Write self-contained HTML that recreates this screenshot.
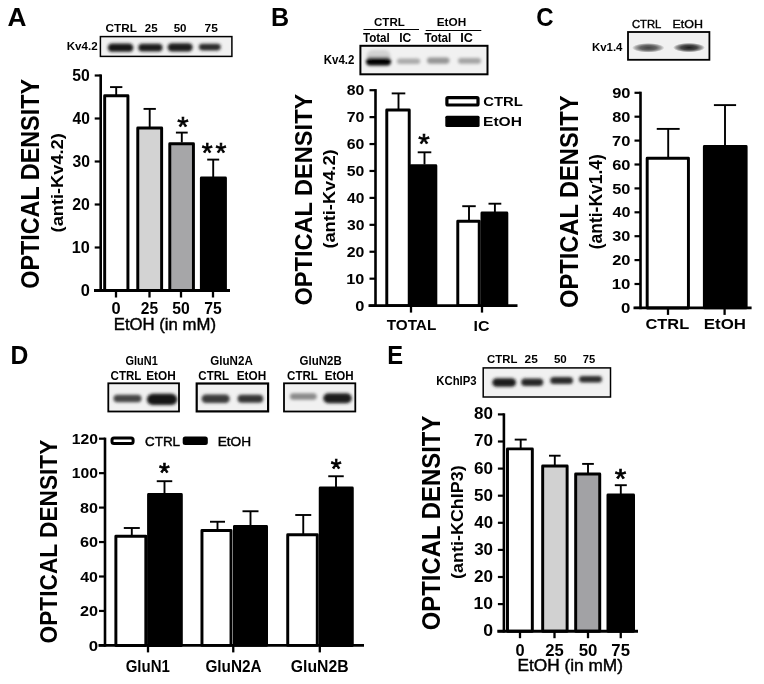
<!DOCTYPE html>
<html><head><meta charset="utf-8"><title>Figure</title>
<style>
html,body{margin:0;padding:0;background:#fff;width:764px;height:684px;overflow:hidden;}
svg{display:block;}
text{font-family:"Liberation Sans", Arial, sans-serif;}
</style></head><body>
<svg width="764" height="684" viewBox="0 0 764 684">
<defs><radialGradient id="lens"><stop offset="0" stop-color="#000" stop-opacity="1"/><stop offset="0.5" stop-color="#000" stop-opacity="0.8"/><stop offset="0.8" stop-color="#000" stop-opacity="0.4"/><stop offset="1" stop-color="#000" stop-opacity="0"/></radialGradient><filter id="bl" x="-20%" y="-50%" width="140%" height="200%"><feGaussianBlur stdDeviation="1.6"/></filter></defs>
<rect width="764" height="684" fill="#fff"/>
<text transform="translate(8.10,25.80) scale(1.0126,1)" x="-0.65" y="0" font-size="25.94" font-weight="bold" fill="#000">A</text>
<text transform="translate(106.00,32.00) scale(1.0137,1)" x="-0.46" y="0" font-size="11.59" font-weight="bold" fill="#000">CTRL</text>
<text transform="translate(145.20,31.80) scale(1.0194,1)" x="-0.40" y="0" font-size="11.30" font-weight="bold" fill="#000">25</text>
<text transform="translate(174.00,32.00) scale(0.9952,1)" x="-0.35" y="0" font-size="11.59" font-weight="bold" fill="#000">50</text>
<text transform="translate(205.00,32.00) scale(1.0317,1)" x="-0.46" y="0" font-size="11.59" font-weight="bold" fill="#000">75</text>
<clipPath id="c1"><rect x="100.4" y="36.6" width="131.5" height="19.799999999999997"/></clipPath>
<rect x="100.40" y="36.60" width="131.50" height="19.80" fill="#f1f1f1" stroke="none" stroke-width="0" />
<g clip-path="url(#c1)" filter="url(#bl)">
<rect x="107.80" y="43.55" width="25.50" height="8.30" rx="4.15" fill="#151515"/>
<rect x="138.30" y="43.70" width="24.20" height="7.80" rx="3.90" fill="#1e1e1e"/>
<rect x="167.70" y="43.15" width="24.90" height="8.30" rx="4.15" fill="#1a1a1a"/>
<rect x="198.90" y="43.80" width="21.80" height="6.60" rx="3.30" fill="#2a2a2a"/>
</g>
<rect x="100.40" y="36.60" width="131.50" height="19.80" fill="none" stroke="#000" stroke-width="1.5" />
<text transform="translate(67.50,50.30) scale(1.0006,1)" x="-0.75" y="0" font-size="11.59" font-weight="bold" fill="#000">Kv4.2</text>
<line x1="100.70" y1="74.40" x2="100.70" y2="291.80" stroke="#000" stroke-width="2.6"/>
<line x1="94.70" y1="75.50" x2="100.70" y2="75.50" stroke="#000" stroke-width="2.2"/>
<line x1="94.70" y1="118.50" x2="100.70" y2="118.50" stroke="#000" stroke-width="2.2"/>
<line x1="94.70" y1="161.50" x2="100.70" y2="161.50" stroke="#000" stroke-width="2.2"/>
<line x1="94.70" y1="204.50" x2="100.70" y2="204.50" stroke="#000" stroke-width="2.2"/>
<line x1="94.70" y1="247.50" x2="100.70" y2="247.50" stroke="#000" stroke-width="2.2"/>
<line x1="94.70" y1="290.50" x2="100.70" y2="290.50" stroke="#000" stroke-width="2.2"/>
<text transform="translate(72.80,80.90) scale(1.0075,1)" x="-0.47" y="0" font-size="15.65" font-weight="bold" fill="#000">50</text>
<text transform="translate(72.80,123.90) scale(0.9932,1)" x="-0.23" y="0" font-size="15.65" font-weight="bold" fill="#000">40</text>
<text transform="translate(72.80,166.90) scale(1.0027,1)" x="-0.39" y="0" font-size="15.65" font-weight="bold" fill="#000">30</text>
<text transform="translate(72.80,209.90) scale(1.0123,1)" x="-0.55" y="0" font-size="15.65" font-weight="bold" fill="#000">20</text>
<text transform="translate(72.80,252.90) scale(1.0374,1)" x="-0.94" y="0" font-size="15.65" font-weight="bold" fill="#000">10</text>
<text transform="translate(81.40,295.90) scale(1.0491,1)" x="-0.63" y="0" font-size="15.65" font-weight="bold" fill="#000">0</text>
<line x1="116.20" y1="95.50" x2="116.20" y2="87.10" stroke="#000" stroke-width="1.9"/>
<line x1="110.05" y1="87.10" x2="122.35" y2="87.10" stroke="#000" stroke-width="1.9"/>
<rect x="104.67" y="95.77" width="23.25" height="194.72" fill="#fff" stroke="#000" stroke-width="2.95" stroke-linejoin="round"/>
<line x1="149.70" y1="127.00" x2="149.70" y2="108.90" stroke="#000" stroke-width="1.9"/>
<line x1="143.55" y1="108.90" x2="155.85" y2="108.90" stroke="#000" stroke-width="1.9"/>
<rect x="137.78" y="128.07" width="23.85" height="162.43" fill="#d3d3d3" stroke="#000" stroke-width="2.95" stroke-linejoin="round"/>
<line x1="181.80" y1="142.50" x2="181.80" y2="132.60" stroke="#000" stroke-width="1.9"/>
<line x1="175.90" y1="132.60" x2="187.70" y2="132.60" stroke="#000" stroke-width="1.9"/>
<rect x="169.78" y="143.67" width="23.65" height="146.83" fill="#a6a6a8" stroke="#000" stroke-width="2.95" stroke-linejoin="round"/>
<line x1="213.20" y1="177.00" x2="213.20" y2="159.60" stroke="#000" stroke-width="1.9"/>
<line x1="207.20" y1="159.60" x2="219.20" y2="159.60" stroke="#000" stroke-width="1.9"/>
<rect x="201.38" y="178.07" width="24.05" height="112.43" fill="#000" stroke="#000" stroke-width="2.95" stroke-linejoin="round"/>
<text transform="translate(177.80,135.63) scale(1.0634,1)" x="-0.41" y="0" font-size="27.43" font-weight="normal" stroke="#000" stroke-width="0.66">*</text>
<text transform="translate(202.20,162.03) scale(1.0229,1)" x="-0.41" y="0" font-size="27.43" font-weight="normal" stroke="#000" stroke-width="0.68">*</text>
<text transform="translate(215.80,162.03) scale(1.0229,1)" x="-0.41" y="0" font-size="27.43" font-weight="normal" stroke="#000" stroke-width="0.68">*</text>
<line x1="94.00" y1="290.50" x2="230.00" y2="290.50" stroke="#000" stroke-width="2.9"/>
<line x1="116.00" y1="290.50" x2="116.00" y2="297.50" stroke="#000" stroke-width="2.3"/>
<line x1="149.50" y1="290.50" x2="149.50" y2="297.50" stroke="#000" stroke-width="2.3"/>
<line x1="181.00" y1="290.50" x2="181.00" y2="297.50" stroke="#000" stroke-width="2.3"/>
<line x1="213.00" y1="290.50" x2="213.00" y2="297.50" stroke="#000" stroke-width="2.3"/>
<text transform="translate(112.10,314.00) scale(0.9853,1)" x="-0.67" y="0" font-size="16.67" font-weight="bold" fill="#000">0</text>
<text transform="translate(141.30,314.00) scale(0.9371,1)" x="-0.58" y="0" font-size="16.67" font-weight="bold" fill="#000">25</text>
<text transform="translate(172.80,314.00) scale(0.9462,1)" x="-0.50" y="0" font-size="16.67" font-weight="bold" fill="#000">50</text>
<text transform="translate(204.80,314.00) scale(0.9416,1)" x="-0.67" y="0" font-size="16.67" font-weight="bold" fill="#000">75</text>
<text transform="translate(115.10,329.80) scale(1.0691,1)" x="-1.25" y="0" font-size="15.65" font-weight="normal" fill="#000" stroke="#000" stroke-width="0.42">EtOH (in mM)</text>
<text transform="translate(38.50,287.80) rotate(-90) scale(0.9372,1)" x="-1.00" y="0" font-size="24.93" font-weight="bold">OPTICAL DENSITY</text>
<text transform="translate(62.50,231.50) rotate(-90) scale(1.0567,1)" x="-0.86" y="0" font-size="17.25" font-weight="bold">(anti-Kv4.2)</text>
<text transform="translate(272.70,25.80) scale(0.9723,1)" x="-1.68" y="0" font-size="25.80" font-weight="bold" fill="#000">B</text>
<text transform="translate(374.50,26.00) scale(1.1396,1)" x="-0.41" y="0" font-size="10.14" font-weight="bold" fill="#000">CTRL</text>
<line x1="363.50" y1="29.50" x2="419.00" y2="29.50" stroke="#000" stroke-width="1.1"/>
<text transform="translate(437.50,26.00) scale(1.1646,1)" x="-0.66" y="0" font-size="10.14" font-weight="bold" fill="#000">EtOH</text>
<line x1="425.70" y1="30.50" x2="481.30" y2="30.50" stroke="#000" stroke-width="1.1"/>
<text transform="translate(363.00,42.00) scale(0.8919,1)" x="-0.13" y="0" font-size="13.04" font-weight="bold" fill="#000">Total</text>
<text transform="translate(400.00,42.00) scale(0.9267,1)" x="-0.85" y="0" font-size="13.04" font-weight="bold" fill="#000">IC</text>
<text transform="translate(424.50,42.00) scale(0.8919,1)" x="-0.13" y="0" font-size="13.04" font-weight="bold" fill="#000">Total</text>
<text transform="translate(461.00,42.00) scale(0.9689,1)" x="-0.85" y="0" font-size="13.04" font-weight="bold" fill="#000">IC</text>
<clipPath id="c2"><rect x="360.4" y="45.8" width="127.10000000000002" height="28.5"/></clipPath>
<rect x="360.40" y="45.80" width="127.10" height="28.50" fill="#f1f1f1" stroke="none" stroke-width="0" />
<g clip-path="url(#c2)" filter="url(#bl)">
<rect x="366.50" y="50.00" width="24.00" height="12.00" rx="6.00" fill="#d2d2d2"/>
<rect x="366.00" y="57.40" width="25.00" height="8.00" rx="4.00" fill="#050505"/>
<rect x="397.00" y="58.55" width="23.20" height="5.50" rx="2.75" fill="#aaaaaa"/>
<rect x="427.00" y="57.50" width="22.50" height="6.20" rx="3.10" fill="#959595"/>
<rect x="458.00" y="57.90" width="23.00" height="5.80" rx="2.90" fill="#a4a4a4"/>
</g>
<rect x="360.40" y="45.80" width="127.10" height="28.50" fill="none" stroke="#000" stroke-width="2" />
<text transform="translate(324.50,64.00) scale(0.9354,1)" x="-0.80" y="0" font-size="12.32" font-weight="bold" fill="#000">Kv4.2</text>
<line x1="375.50" y1="89.10" x2="375.50" y2="306.90" stroke="#000" stroke-width="2.6"/>
<line x1="369.50" y1="305.60" x2="375.50" y2="305.60" stroke="#000" stroke-width="2.2"/>
<line x1="369.50" y1="278.68" x2="375.50" y2="278.68" stroke="#000" stroke-width="2.2"/>
<line x1="369.50" y1="251.75" x2="375.50" y2="251.75" stroke="#000" stroke-width="2.2"/>
<line x1="369.50" y1="224.83" x2="375.50" y2="224.83" stroke="#000" stroke-width="2.2"/>
<line x1="369.50" y1="197.90" x2="375.50" y2="197.90" stroke="#000" stroke-width="2.2"/>
<line x1="369.50" y1="170.97" x2="375.50" y2="170.97" stroke="#000" stroke-width="2.2"/>
<line x1="369.50" y1="144.05" x2="375.50" y2="144.05" stroke="#000" stroke-width="2.2"/>
<line x1="369.50" y1="117.12" x2="375.50" y2="117.12" stroke="#000" stroke-width="2.2"/>
<line x1="369.50" y1="90.20" x2="375.50" y2="90.20" stroke="#000" stroke-width="2.2"/>
<text transform="translate(355.90,310.80) scale(1.0589,1)" x="-0.62" y="0" font-size="15.51" font-weight="bold" fill="#000">0</text>
<text transform="translate(347.30,283.88) scale(1.0471,1)" x="-0.93" y="0" font-size="15.51" font-weight="bold" fill="#000">10</text>
<text transform="translate(347.30,256.95) scale(1.0218,1)" x="-0.54" y="0" font-size="15.51" font-weight="bold" fill="#000">20</text>
<text transform="translate(347.30,230.03) scale(1.0120,1)" x="-0.39" y="0" font-size="15.51" font-weight="bold" fill="#000">30</text>
<text transform="translate(347.30,203.10) scale(1.0024,1)" x="-0.23" y="0" font-size="15.51" font-weight="bold" fill="#000">40</text>
<text transform="translate(347.30,176.17) scale(1.0169,1)" x="-0.47" y="0" font-size="15.51" font-weight="bold" fill="#000">50</text>
<text transform="translate(347.30,149.25) scale(1.0218,1)" x="-0.54" y="0" font-size="15.51" font-weight="bold" fill="#000">60</text>
<text transform="translate(347.30,122.33) scale(1.0268,1)" x="-0.62" y="0" font-size="15.51" font-weight="bold" fill="#000">70</text>
<text transform="translate(347.30,95.40) scale(1.0169,1)" x="-0.47" y="0" font-size="15.51" font-weight="bold" fill="#000">80</text>
<line x1="398.50" y1="109.50" x2="398.50" y2="93.40" stroke="#000" stroke-width="1.9"/>
<line x1="391.70" y1="93.40" x2="405.30" y2="93.40" stroke="#000" stroke-width="1.9"/>
<rect x="386.78" y="110.07" width="22.45" height="195.53" fill="#fff" stroke="#000" stroke-width="2.95" stroke-linejoin="round"/>
<line x1="424.50" y1="164.50" x2="424.50" y2="152.30" stroke="#000" stroke-width="1.9"/>
<line x1="417.70" y1="152.30" x2="431.30" y2="152.30" stroke="#000" stroke-width="1.9"/>
<rect x="411.18" y="165.78" width="24.65" height="139.83" fill="#000" stroke="#000" stroke-width="2.95" stroke-linejoin="round"/>
<line x1="469.00" y1="221.00" x2="469.00" y2="206.20" stroke="#000" stroke-width="1.9"/>
<line x1="462.25" y1="206.20" x2="475.75" y2="206.20" stroke="#000" stroke-width="1.9"/>
<rect x="457.78" y="221.17" width="21.45" height="84.43" fill="#fff" stroke="#000" stroke-width="2.95" stroke-linejoin="round"/>
<line x1="494.90" y1="212.00" x2="494.90" y2="203.70" stroke="#000" stroke-width="1.9"/>
<line x1="488.50" y1="203.70" x2="501.30" y2="203.70" stroke="#000" stroke-width="1.9"/>
<rect x="481.98" y="213.07" width="24.85" height="92.53" fill="#000" stroke="#000" stroke-width="2.95" stroke-linejoin="round"/>
<text transform="translate(418.80,153.02) scale(1.0410,1)" x="-0.42" y="0" font-size="28.29" font-weight="normal" stroke="#000" stroke-width="0.67">*</text>
<line x1="368.50" y1="305.60" x2="517.50" y2="305.60" stroke="#000" stroke-width="2.9"/>
<line x1="411.00" y1="305.60" x2="411.00" y2="312.60" stroke="#000" stroke-width="2.3"/>
<line x1="482.00" y1="305.60" x2="482.00" y2="312.60" stroke="#000" stroke-width="2.3"/>
<text transform="translate(386.80,330.40) scale(1.0159,1)" x="-0.15" y="0" font-size="15.07" font-weight="bold" fill="#000">TOTAL</text>
<text transform="translate(474.50,330.50) scale(1.0471,1)" x="-0.99" y="0" font-size="15.22" font-weight="bold" fill="#000">IC</text>
<rect x="446.90" y="97.60" width="31.10" height="7.40" fill="#fff" stroke="#000" stroke-width="3.2" rx="1"/>
<rect x="445.30" y="115.70" width="34.30" height="11.30" fill="#000" stroke="none" stroke-width="0" rx="1.5"/>
<text transform="translate(483.80,105.90) scale(1.1036,1)" x="-0.54" y="0" font-size="13.48" font-weight="bold" fill="#000">CTRL</text>
<text transform="translate(484.00,126.30) scale(1.1460,1)" x="-0.89" y="0" font-size="13.62" font-weight="bold" fill="#000">EtOH</text>
<text transform="translate(311.50,304.60) rotate(-90) scale(0.9577,1)" x="-0.99" y="0" font-size="24.64" font-weight="bold">OPTICAL DENSITY</text>
<text transform="translate(334.50,247.70) rotate(-90) scale(1.1432,1)" x="-0.80" y="0" font-size="15.94" font-weight="bold">(anti-Kv4.2)</text>
<text transform="translate(537.30,25.90) scale(0.9292,1)" x="-1.03" y="0" font-size="25.80" font-weight="bold" fill="#000">C</text>
<text transform="translate(632.50,27.50) scale(0.9716,1)" x="-0.58" y="0" font-size="11.59" font-weight="normal" fill="#000" stroke="#000" stroke-width="0.41">CTRL</text>
<text transform="translate(673.50,27.50) scale(1.0758,1)" x="-0.93" y="0" font-size="11.59" font-weight="normal" fill="#000" stroke="#000" stroke-width="0.37">EtOH</text>
<clipPath id="c3"><rect x="628" y="32" width="81.39999999999998" height="27.799999999999997"/></clipPath>
<rect x="628.00" y="32.00" width="81.40" height="27.80" fill="#f1f1f1" stroke="none" stroke-width="0" />
<g clip-path="url(#c3)" filter="url(#bl)">
</g>
<ellipse cx="648.25" cy="47.80" rx="16.25" ry="4.75" fill="url(#lens)" opacity="0.72" clip-path="url(#c3)"/>
<g clip-path="url(#c3)" filter="url(#bl)">
</g>
<ellipse cx="689.00" cy="47.60" rx="16.00" ry="4.75" fill="url(#lens)" opacity="0.88" clip-path="url(#c3)"/>
<g clip-path="url(#c3)" filter="url(#bl)">
</g>
<rect x="628.00" y="32.00" width="81.40" height="27.80" fill="none" stroke="#000" stroke-width="1.8" />
<text transform="translate(592.70,50.50) scale(1.0818,1)" x="-0.69" y="0" font-size="10.58" font-weight="bold" fill="#000">Kv1.4</text>
<line x1="640.50" y1="91.70" x2="640.50" y2="309.20" stroke="#000" stroke-width="2.6"/>
<line x1="634.50" y1="307.90" x2="640.50" y2="307.90" stroke="#000" stroke-width="2.2"/>
<line x1="634.50" y1="284.00" x2="640.50" y2="284.00" stroke="#000" stroke-width="2.2"/>
<line x1="634.50" y1="260.10" x2="640.50" y2="260.10" stroke="#000" stroke-width="2.2"/>
<line x1="634.50" y1="236.20" x2="640.50" y2="236.20" stroke="#000" stroke-width="2.2"/>
<line x1="634.50" y1="212.30" x2="640.50" y2="212.30" stroke="#000" stroke-width="2.2"/>
<line x1="634.50" y1="188.40" x2="640.50" y2="188.40" stroke="#000" stroke-width="2.2"/>
<line x1="634.50" y1="164.50" x2="640.50" y2="164.50" stroke="#000" stroke-width="2.2"/>
<line x1="634.50" y1="140.60" x2="640.50" y2="140.60" stroke="#000" stroke-width="2.2"/>
<line x1="634.50" y1="116.70" x2="640.50" y2="116.70" stroke="#000" stroke-width="2.2"/>
<line x1="634.50" y1="92.80" x2="640.50" y2="92.80" stroke="#000" stroke-width="2.2"/>
<text transform="translate(621.70,313.00) scale(1.0861,1)" x="-0.62" y="0" font-size="15.51" font-weight="bold" fill="#000">0</text>
<text transform="translate(612.70,289.10) scale(1.0854,1)" x="-0.93" y="0" font-size="15.51" font-weight="bold" fill="#000">10</text>
<text transform="translate(612.70,265.20) scale(1.0592,1)" x="-0.54" y="0" font-size="15.51" font-weight="bold" fill="#000">20</text>
<text transform="translate(612.70,241.30) scale(1.0491,1)" x="-0.39" y="0" font-size="15.51" font-weight="bold" fill="#000">30</text>
<text transform="translate(612.70,217.40) scale(1.0391,1)" x="-0.23" y="0" font-size="15.51" font-weight="bold" fill="#000">40</text>
<text transform="translate(612.70,193.50) scale(1.0541,1)" x="-0.47" y="0" font-size="15.51" font-weight="bold" fill="#000">50</text>
<text transform="translate(612.70,169.60) scale(1.0592,1)" x="-0.54" y="0" font-size="15.51" font-weight="bold" fill="#000">60</text>
<text transform="translate(612.70,145.70) scale(1.0643,1)" x="-0.62" y="0" font-size="15.51" font-weight="bold" fill="#000">70</text>
<text transform="translate(612.70,121.80) scale(1.0541,1)" x="-0.47" y="0" font-size="15.51" font-weight="bold" fill="#000">80</text>
<text transform="translate(612.70,97.90) scale(1.0592,1)" x="-0.54" y="0" font-size="15.51" font-weight="bold" fill="#000">90</text>
<line x1="668.20" y1="157.50" x2="668.20" y2="128.90" stroke="#000" stroke-width="1.9"/>
<line x1="656.75" y1="128.90" x2="679.65" y2="128.90" stroke="#000" stroke-width="1.9"/>
<rect x="647.18" y="158.28" width="41.25" height="149.62" fill="#fff" stroke="#000" stroke-width="2.95" stroke-linejoin="round"/>
<line x1="725.00" y1="145.00" x2="725.00" y2="105.10" stroke="#000" stroke-width="1.9"/>
<line x1="713.90" y1="105.10" x2="736.10" y2="105.10" stroke="#000" stroke-width="1.9"/>
<rect x="704.38" y="146.57" width="41.75" height="161.32" fill="#000" stroke="#000" stroke-width="2.95" stroke-linejoin="round"/>
<line x1="633.50" y1="307.90" x2="751.60" y2="307.90" stroke="#000" stroke-width="2.9"/>
<line x1="668.00" y1="307.90" x2="668.00" y2="314.90" stroke="#000" stroke-width="2.3"/>
<line x1="724.60" y1="307.90" x2="724.60" y2="314.90" stroke="#000" stroke-width="2.3"/>
<text transform="translate(646.20,328.70) scale(1.1189,1)" x="-0.59" y="0" font-size="14.64" font-weight="bold" fill="#000">CTRL</text>
<text transform="translate(704.90,328.70) scale(1.1530,1)" x="-0.95" y="0" font-size="14.64" font-weight="bold" fill="#000">EtOH</text>
<text transform="translate(577.80,307.00) rotate(-90) scale(0.9071,1)" x="-1.04" y="0" font-size="26.09" font-weight="bold">OPTICAL DENSITY</text>
<text transform="translate(601.50,248.40) rotate(-90) scale(0.9560,1)" x="-0.91" y="0" font-size="18.26" font-weight="bold">(anti-Kv1.4)</text>
<text transform="translate(12.00,363.90) scale(0.9581,1)" x="-1.68" y="0" font-size="25.80" font-weight="bold" fill="#000">D</text>
<text transform="translate(126.00,364.50) scale(0.8879,1)" x="-0.49" y="0" font-size="12.32" font-weight="bold" fill="#000">GluN1</text>
<text transform="translate(111.00,379.50) scale(0.9385,1)" x="-0.49" y="0" font-size="12.32" font-weight="bold" fill="#000">CTRL</text>
<text transform="translate(147.00,379.50) scale(0.9590,1)" x="-0.80" y="0" font-size="12.32" font-weight="bold" fill="#000">EtOH</text>
<clipPath id="c4"><rect x="108.3" y="383.3" width="70.7" height="28.19999999999999"/></clipPath>
<rect x="108.30" y="383.30" width="70.70" height="28.20" fill="#f1f1f1" stroke="none" stroke-width="0" />
<g clip-path="url(#c4)" filter="url(#bl)">
<rect x="113.50" y="394.75" width="28.00" height="7.50" rx="3.75" fill="#454545"/>
<rect x="146.90" y="393.80" width="30.40" height="11.20" rx="5.60" fill="#141414"/>
</g>
<rect x="108.30" y="383.30" width="70.70" height="28.20" fill="none" stroke="#000" stroke-width="1.8" />
<text transform="translate(210.75,364.50) scale(0.9414,1)" x="-0.49" y="0" font-size="12.32" font-weight="bold" fill="#000">GluN2A</text>
<text transform="translate(198.75,379.50) scale(0.9385,1)" x="-0.49" y="0" font-size="12.32" font-weight="bold" fill="#000">CTRL</text>
<text transform="translate(237.50,379.50) scale(0.9590,1)" x="-0.80" y="0" font-size="12.32" font-weight="bold" fill="#000">EtOH</text>
<clipPath id="c5"><rect x="196.7" y="383.5" width="71.40000000000003" height="27.899999999999977"/></clipPath>
<rect x="196.70" y="383.50" width="71.40" height="27.90" fill="#f1f1f1" stroke="none" stroke-width="0" />
<g clip-path="url(#c5)" filter="url(#bl)">
<rect x="201.60" y="394.55" width="28.10" height="8.50" rx="4.25" fill="#3a3a3a"/>
<rect x="237.60" y="394.80" width="25.60" height="8.00" rx="4.00" fill="#353535"/>
</g>
<rect x="196.70" y="383.50" width="71.40" height="27.90" fill="none" stroke="#000" stroke-width="2.2" />
<text transform="translate(300.00,364.50) scale(0.9353,1)" x="-0.49" y="0" font-size="12.32" font-weight="bold" fill="#000">GluN2B</text>
<text transform="translate(287.50,379.50) scale(0.9385,1)" x="-0.49" y="0" font-size="12.32" font-weight="bold" fill="#000">CTRL</text>
<text transform="translate(325.50,379.50) scale(0.9419,1)" x="-0.80" y="0" font-size="12.32" font-weight="bold" fill="#000">EtOH</text>
<clipPath id="c6"><rect x="284" y="383.3" width="71.30000000000001" height="28.19999999999999"/></clipPath>
<rect x="284.00" y="383.30" width="71.30" height="28.20" fill="#f1f1f1" stroke="none" stroke-width="0" />
<g clip-path="url(#c6)" filter="url(#bl)">
<rect x="290.00" y="393.25" width="26.70" height="6.50" rx="3.25" fill="#8a8a8a"/>
<rect x="323.30" y="393.30" width="28.40" height="10.00" rx="5.00" fill="#1a1a1a"/>
</g>
<rect x="284.00" y="383.30" width="71.30" height="28.20" fill="none" stroke="#000" stroke-width="1.8" />
<line x1="105.00" y1="437.60" x2="105.00" y2="646.70" stroke="#000" stroke-width="2.6"/>
<line x1="99.00" y1="645.40" x2="105.00" y2="645.40" stroke="#000" stroke-width="2.2"/>
<line x1="99.00" y1="610.95" x2="105.00" y2="610.95" stroke="#000" stroke-width="2.2"/>
<line x1="99.00" y1="576.50" x2="105.00" y2="576.50" stroke="#000" stroke-width="2.2"/>
<line x1="99.00" y1="542.05" x2="105.00" y2="542.05" stroke="#000" stroke-width="2.2"/>
<line x1="99.00" y1="507.60" x2="105.00" y2="507.60" stroke="#000" stroke-width="2.2"/>
<line x1="99.00" y1="473.15" x2="105.00" y2="473.15" stroke="#000" stroke-width="2.2"/>
<line x1="99.00" y1="438.70" x2="105.00" y2="438.70" stroke="#000" stroke-width="2.2"/>
<text transform="translate(89.30,650.60) scale(1.0963,1)" x="-0.61" y="0" font-size="15.36" font-weight="bold" fill="#000">0</text>
<text transform="translate(80.50,616.15) scale(1.0566,1)" x="-0.54" y="0" font-size="15.36" font-weight="bold" fill="#000">20</text>
<text transform="translate(80.50,581.70) scale(1.0366,1)" x="-0.23" y="0" font-size="15.36" font-weight="bold" fill="#000">40</text>
<text transform="translate(80.50,547.25) scale(1.0566,1)" x="-0.54" y="0" font-size="15.36" font-weight="bold" fill="#000">60</text>
<text transform="translate(80.50,512.80) scale(1.0515,1)" x="-0.46" y="0" font-size="15.36" font-weight="bold" fill="#000">80</text>
<text transform="translate(72.70,478.35) scale(1.0232,1)" x="-0.92" y="0" font-size="15.36" font-weight="bold" fill="#000">100</text>
<text transform="translate(72.70,443.90) scale(1.0232,1)" x="-0.92" y="0" font-size="15.36" font-weight="bold" fill="#000">120</text>
<line x1="131.80" y1="535.50" x2="131.80" y2="528.00" stroke="#000" stroke-width="1.9"/>
<line x1="123.80" y1="528.00" x2="139.80" y2="528.00" stroke="#000" stroke-width="1.9"/>
<rect x="115.88" y="536.27" width="29.95" height="109.13" fill="#fff" stroke="#000" stroke-width="2.95" stroke-linejoin="round"/>
<line x1="164.50" y1="494.00" x2="164.50" y2="481.20" stroke="#000" stroke-width="1.9"/>
<line x1="156.75" y1="481.20" x2="172.25" y2="481.20" stroke="#000" stroke-width="1.9"/>
<rect x="148.57" y="494.38" width="32.75" height="151.03" fill="#000" stroke="#000" stroke-width="2.95" stroke-linejoin="round"/>
<line x1="217.50" y1="530.00" x2="217.50" y2="521.75" stroke="#000" stroke-width="1.9"/>
<line x1="210.00" y1="521.75" x2="225.00" y2="521.75" stroke="#000" stroke-width="1.9"/>
<rect x="201.97" y="530.48" width="29.05" height="114.92" fill="#fff" stroke="#000" stroke-width="2.95" stroke-linejoin="round"/>
<line x1="250.50" y1="526.00" x2="250.50" y2="511.25" stroke="#000" stroke-width="1.9"/>
<line x1="242.50" y1="511.25" x2="258.50" y2="511.25" stroke="#000" stroke-width="1.9"/>
<rect x="234.47" y="526.48" width="32.05" height="118.92" fill="#000" stroke="#000" stroke-width="2.95" stroke-linejoin="round"/>
<line x1="303.25" y1="534.25" x2="303.25" y2="515.00" stroke="#000" stroke-width="1.9"/>
<line x1="295.25" y1="515.00" x2="311.25" y2="515.00" stroke="#000" stroke-width="1.9"/>
<rect x="287.73" y="534.73" width="29.55" height="110.67" fill="#fff" stroke="#000" stroke-width="2.95" stroke-linejoin="round"/>
<line x1="336.00" y1="487.50" x2="336.00" y2="476.25" stroke="#000" stroke-width="1.9"/>
<line x1="328.25" y1="476.25" x2="343.75" y2="476.25" stroke="#000" stroke-width="1.9"/>
<rect x="320.23" y="487.98" width="32.05" height="157.42" fill="#000" stroke="#000" stroke-width="2.95" stroke-linejoin="round"/>
<text transform="translate(159.45,481.78) scale(1.0343,1)" x="-0.40" y="0" font-size="26.86" font-weight="normal" stroke="#000" stroke-width="0.68">*</text>
<text transform="translate(331.10,477.63) scale(1.0343,1)" x="-0.40" y="0" font-size="26.86" font-weight="normal" stroke="#000" stroke-width="0.68">*</text>
<line x1="98.50" y1="645.40" x2="364.00" y2="645.40" stroke="#000" stroke-width="2.9"/>
<line x1="148.00" y1="645.40" x2="148.00" y2="652.40" stroke="#000" stroke-width="2.3"/>
<line x1="233.25" y1="645.40" x2="233.25" y2="652.40" stroke="#000" stroke-width="2.3"/>
<line x1="319.80" y1="645.40" x2="319.80" y2="652.40" stroke="#000" stroke-width="2.3"/>
<text transform="translate(126.25,671.75) scale(0.9639,1)" x="-0.62" y="0" font-size="15.58" font-weight="bold" fill="#000">GluN1</text>
<text transform="translate(206.00,671.75) scale(0.9851,1)" x="-0.62" y="0" font-size="15.58" font-weight="bold" fill="#000">GluN2A</text>
<text transform="translate(291.40,671.75) scale(1.0112,1)" x="-0.62" y="0" font-size="15.58" font-weight="bold" fill="#000">GluN2B</text>
<rect x="112.00" y="438.00" width="21.10" height="5.40" fill="#fff" stroke="#000" stroke-width="3" rx="2"/>
<rect x="182.70" y="436.50" width="25.10" height="8.40" fill="#000" stroke="none" stroke-width="0" rx="2.5"/>
<text transform="translate(145.70,446.00) scale(1.0388,1)" x="-0.64" y="0" font-size="12.90" font-weight="normal" fill="#000" stroke="#000" stroke-width="0.43">CTRL</text>
<text transform="translate(218.75,446.00) scale(1.0603,1)" x="-1.03" y="0" font-size="12.90" font-weight="normal" fill="#000" stroke="#000" stroke-width="0.42">EtOH</text>
<text transform="translate(57.20,642.50) rotate(-90) scale(0.9488,1)" x="-0.96" y="0" font-size="23.91" font-weight="bold">OPTICAL DENSITY</text>
<text transform="translate(388.70,363.90) scale(0.9091,1)" x="-1.70" y="0" font-size="26.09" font-weight="bold" fill="#000">E</text>
<text transform="translate(487.50,363.00) scale(0.9805,1)" x="-0.46" y="0" font-size="11.59" font-weight="bold" fill="#000">CTRL</text>
<text transform="translate(525.00,363.00) scale(1.0268,1)" x="-0.41" y="0" font-size="11.59" font-weight="bold" fill="#000">25</text>
<text transform="translate(554.25,363.00) scale(0.9952,1)" x="-0.35" y="0" font-size="11.59" font-weight="bold" fill="#000">50</text>
<text transform="translate(583.25,363.00) scale(0.9698,1)" x="-0.46" y="0" font-size="11.59" font-weight="bold" fill="#000">75</text>
<clipPath id="c7"><rect x="483.2" y="367.9" width="127.30000000000001" height="29.100000000000023"/></clipPath>
<rect x="483.20" y="367.90" width="127.30" height="29.10" fill="#f1f1f1" stroke="none" stroke-width="0" />
<g clip-path="url(#c7)" filter="url(#bl)">
<rect x="492.30" y="378.15" width="23.70" height="8.50" rx="4.25" fill="#1a1a1a"/>
<rect x="521.20" y="378.45" width="22.00" height="7.50" rx="3.75" fill="#282828"/>
<rect x="550.20" y="377.10" width="22.80" height="7.00" rx="3.50" fill="#2a2a2a"/>
<rect x="579.10" y="375.95" width="22.90" height="6.50" rx="3.25" fill="#2e2e2e"/>
</g>
<rect x="483.20" y="367.90" width="127.30" height="29.10" fill="none" stroke="#000" stroke-width="1.5" />
<text transform="translate(437.00,385.00) scale(0.8710,1)" x="-0.85" y="0" font-size="13.04" font-weight="bold" fill="#000">KChIP3</text>
<line x1="503.90" y1="413.30" x2="503.90" y2="632.50" stroke="#000" stroke-width="2.6"/>
<line x1="497.90" y1="631.20" x2="503.90" y2="631.20" stroke="#000" stroke-width="2.2"/>
<line x1="497.90" y1="604.10" x2="503.90" y2="604.10" stroke="#000" stroke-width="2.2"/>
<line x1="497.90" y1="577.00" x2="503.90" y2="577.00" stroke="#000" stroke-width="2.2"/>
<line x1="497.90" y1="549.90" x2="503.90" y2="549.90" stroke="#000" stroke-width="2.2"/>
<line x1="497.90" y1="522.80" x2="503.90" y2="522.80" stroke="#000" stroke-width="2.2"/>
<line x1="497.90" y1="495.70" x2="503.90" y2="495.70" stroke="#000" stroke-width="2.2"/>
<line x1="497.90" y1="468.60" x2="503.90" y2="468.60" stroke="#000" stroke-width="2.2"/>
<line x1="497.90" y1="441.50" x2="503.90" y2="441.50" stroke="#000" stroke-width="2.2"/>
<line x1="497.90" y1="414.40" x2="503.90" y2="414.40" stroke="#000" stroke-width="2.2"/>
<text transform="translate(483.90,636.10) scale(1.1298,1)" x="-0.63" y="0" font-size="15.65" font-weight="bold" fill="#000">0</text>
<text transform="translate(474.60,609.00) scale(1.1196,1)" x="-0.94" y="0" font-size="15.65" font-weight="bold" fill="#000">10</text>
<text transform="translate(474.60,581.90) scale(1.0926,1)" x="-0.55" y="0" font-size="15.65" font-weight="bold" fill="#000">20</text>
<text transform="translate(474.60,554.80) scale(1.0821,1)" x="-0.39" y="0" font-size="15.65" font-weight="bold" fill="#000">30</text>
<text transform="translate(474.60,527.70) scale(1.0719,1)" x="-0.23" y="0" font-size="15.65" font-weight="bold" fill="#000">40</text>
<text transform="translate(474.60,500.60) scale(1.0873,1)" x="-0.47" y="0" font-size="15.65" font-weight="bold" fill="#000">50</text>
<text transform="translate(474.60,473.50) scale(1.0926,1)" x="-0.55" y="0" font-size="15.65" font-weight="bold" fill="#000">60</text>
<text transform="translate(474.60,446.40) scale(1.0979,1)" x="-0.63" y="0" font-size="15.65" font-weight="bold" fill="#000">70</text>
<text transform="translate(474.60,419.30) scale(1.0873,1)" x="-0.47" y="0" font-size="15.65" font-weight="bold" fill="#000">80</text>
<line x1="520.70" y1="448.00" x2="520.70" y2="439.60" stroke="#000" stroke-width="1.9"/>
<line x1="514.70" y1="439.60" x2="526.70" y2="439.60" stroke="#000" stroke-width="1.9"/>
<rect x="507.48" y="448.88" width="24.85" height="182.33" fill="#fff" stroke="#000" stroke-width="2.95" stroke-linejoin="round"/>
<line x1="554.80" y1="465.75" x2="554.80" y2="455.70" stroke="#000" stroke-width="1.9"/>
<line x1="549.00" y1="455.70" x2="560.60" y2="455.70" stroke="#000" stroke-width="1.9"/>
<rect x="542.68" y="466.08" width="24.45" height="165.13" fill="#d1d1d1" stroke="#000" stroke-width="2.95" stroke-linejoin="round"/>
<line x1="588.00" y1="473.75" x2="588.00" y2="463.90" stroke="#000" stroke-width="1.9"/>
<line x1="582.15" y1="463.90" x2="593.85" y2="463.90" stroke="#000" stroke-width="1.9"/>
<rect x="575.68" y="474.08" width="24.05" height="157.13" fill="#a2a2a5" stroke="#000" stroke-width="2.95" stroke-linejoin="round"/>
<line x1="620.80" y1="494.50" x2="620.80" y2="485.20" stroke="#000" stroke-width="1.9"/>
<line x1="614.80" y1="485.20" x2="626.80" y2="485.20" stroke="#000" stroke-width="1.9"/>
<rect x="607.98" y="494.98" width="25.55" height="136.23" fill="#000" stroke="#000" stroke-width="2.95" stroke-linejoin="round"/>
<text transform="translate(615.10,487.92) scale(1.0725,1)" x="-0.42" y="0" font-size="27.71" font-weight="normal" stroke="#000" stroke-width="0.65">*</text>
<line x1="497.30" y1="631.20" x2="638.00" y2="631.20" stroke="#000" stroke-width="2.9"/>
<line x1="520.00" y1="631.20" x2="520.00" y2="638.20" stroke="#000" stroke-width="2.3"/>
<line x1="554.50" y1="631.20" x2="554.50" y2="638.20" stroke="#000" stroke-width="2.3"/>
<line x1="588.00" y1="631.20" x2="588.00" y2="638.20" stroke="#000" stroke-width="2.3"/>
<line x1="620.75" y1="631.20" x2="620.75" y2="638.20" stroke="#000" stroke-width="2.3"/>
<text transform="translate(516.10,655.50) scale(1.0300,1)" x="-0.64" y="0" font-size="15.94" font-weight="bold" fill="#000">0</text>
<text transform="translate(545.75,655.50) scale(1.0455,1)" x="-0.56" y="0" font-size="15.94" font-weight="bold" fill="#000">25</text>
<text transform="translate(579.25,655.50) scale(1.0555,1)" x="-0.48" y="0" font-size="15.94" font-weight="bold" fill="#000">50</text>
<text transform="translate(612.00,655.50) scale(1.0505,1)" x="-0.64" y="0" font-size="15.94" font-weight="bold" fill="#000">75</text>
<text transform="translate(518.75,671.20) scale(1.0655,1)" x="-1.30" y="0" font-size="16.23" font-weight="normal" fill="#000" stroke="#000" stroke-width="0.42">EtOH (in mM)</text>
<text transform="translate(440.00,629.40) rotate(-90) scale(0.9374,1)" x="-1.02" y="0" font-size="25.51" font-weight="bold">OPTICAL DENSITY</text>
<text transform="translate(463.40,578.00) rotate(-90) scale(1.0504,1)" x="-0.86" y="0" font-size="17.10" font-weight="bold">(anti-KChIP3)</text>
</svg>
</body></html>
